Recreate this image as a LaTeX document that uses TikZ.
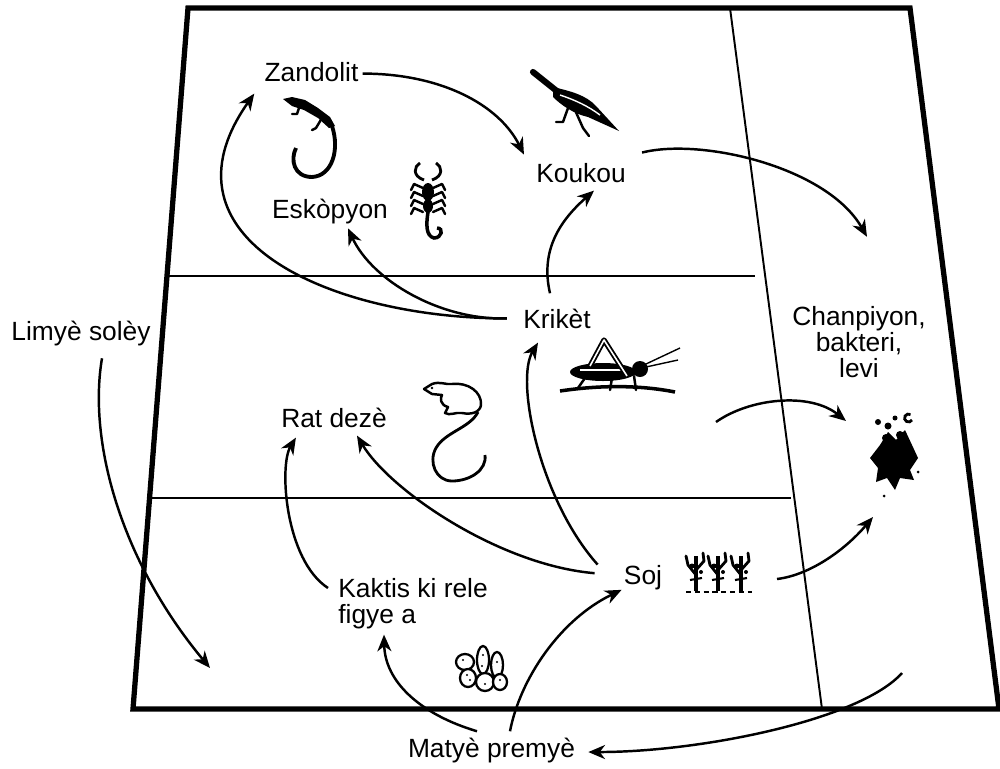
\documentclass[tikz,border=0pt]{standalone}
\usepackage{fontspec}
\setmainfont{Liberation Sans}
\usepackage{tikz}
\usetikzlibrary{arrows.meta}
\tikzstyle{diagram} = [x = 0.02cm, y = -0.02cm]
\tikzstyle{frameLine} = [line width = 3pt, line join = miter]
\tikzstyle{zoneLine} = [line width = 1.1pt]
\tikzstyle{feedArrow} = [line width = 1.4pt, -{Stealth[length = 9.5pt, width = 8pt, inset = 3pt]}]
\tikzstyle{labelText} = [font = \labelFont, inner sep = 0pt, anchor = base]
\tikzstyle{iconLine} = [line width = 1.4pt, line cap = round, line join = round]
\newcommand{\labelFont}{\fontsize{15}{15}\selectfont}
\newcommand{\foodLink}[4]{\draw [feedArrow] #1 .. controls #2 and #3 .. #4;}
\begin{document}
\begin{tikzpicture}[diagram]
    \useasboundingbox (0,0) rectangle (1000,768);
    % frame and zones
    \draw [frameLine] (188,8) -- (910,8) -- (999,709) -- (133,709) -- cycle;
    \draw [zoneLine] (167,276) -- (755,276);
    \draw [zoneLine] (150,498) -- (791,498);
    \draw [zoneLine] (730,8) -- (822,709);
    % lizard
    \fill (283,99) -- (292,97) -- (305,100) -- (318,108) -- (330,117) -- (335,126) -- (329,128) -- (318,118) -- (304,110) -- (292,106) -- cycle;
    \draw [iconLine] (300,105) -- (297,114) -- (292,114);
    \draw [iconLine] (322,118) -- (316,128) -- (312,130);
    \draw [line width = 2.2pt] (332,126) .. controls (340,150) and (332,176) .. (312,177) .. controls (294,177) and (290,160) .. (296,148);
    % bird
    \draw [line width = 3.5pt, line cap = round] (533,72) -- (558,92);
    \fill (553,87) .. controls (570,91) and (586,95) .. (596,106) -- (619,131) -- (588,117) .. controls (574,114) and (561,105) .. (553,97) -- cycle;
    \draw [white, line width = 0.8pt] (560,95) .. controls (575,100) and (588,106) .. (600,115);
    \draw [iconLine] (568,108) -- (563,122) -- (556,122);
    \draw [iconLine] (575,110) -- (583,128) -- (589,136);
    % scorpion
    \draw [line width = 1.6pt] (424,180) .. controls (412,176) and (414,166) .. (420,163);
    \draw [line width = 1.6pt] (432,180) .. controls (444,176) and (442,166) .. (436,163);
    \fill (428,192) ellipse [x radius = 6, y radius = 9];
    \fill (428,206) ellipse [x radius = 5, y radius = 7];
    \foreach \legY in {188,196,204,212} {
      \draw [iconLine] (423,\legY) -- (414,{\legY-4}) -- (411,{\legY+2});
      \draw [iconLine] (433,\legY) -- (442,{\legY-4}) -- (445,{\legY+2});
    }
    \draw [line width = 2pt] (428,212) .. controls (426,225) and (426,236) .. (434,238) .. controls (442,238) and (444,228) .. (437,228);
    % cricket
    \fill (603,372) ellipse [x radius = 33, y radius = 9];
    \fill (640,369) circle [radius = 8];
    \draw [white, line width = 1pt] (580,370) -- (625,370);
    \draw [line width = 3pt, line join = round] (590,366) -- (604,340) -- (627,376);
    \draw [white, line width = 0.9pt, line join = round] (590,366) -- (604,340) -- (627,376);
    \draw [iconLine] (612,378) -- (610,390);
    \draw [iconLine] (634,376) -- (636,390);
    \draw [iconLine] (585,378) -- (578,388);
    \draw [line width = 0.8pt] (646,364) -- (680,348);
    \draw [line width = 0.8pt] (646,367) -- (678,360);
    \draw [line width = 2pt] (560,391) .. controls (600,385) and (640,385) .. (675,392);
    % rat
    \draw [line width = 1.4pt, line join = round] (424,389) -- (432,384) .. controls (440,381) and (446,385) .. (452,384) .. controls (468,382) and (482,392) .. (481,405) .. controls (480,412) and (472,415) .. (462,413) .. controls (455,412) and (450,416) .. (445,413) -- (448,407) .. controls (440,405) and (440,398) .. (442,395) -- (432,394) -- cycle;
    \fill (432,388) circle [radius = 1.3];
    \draw [line width = 1.6pt] (478,412) .. controls (470,428) and (445,432) .. (436,448) .. controls (428,462) and (436,481) .. (452,481) .. controls (470,481) and (487,470) .. (485,455);
    % soj
    \foreach \bushX in {696,718,741} {
      \draw [line width = 2.4pt] (\bushX,591) -- (\bushX,556);
      \draw [iconLine, line width = 1.6pt] (\bushX,575) -- ({\bushX-8},565) -- ({\bushX-10},556);
      \draw [iconLine, line width = 1.6pt] (\bushX,570) -- ({\bushX+8},561) -- ({\bushX+7},553);
      \draw [line width = 1.2pt] ({\bushX-6},580) -- ({\bushX+6},578);
      \fill ({\bushX-4},566) circle [radius = 2.5];
      \fill ({\bushX+5},572) circle [radius = 2];
    }
    \draw [line width = 1.2pt, dash pattern = on 3pt off 2pt] (686,592) -- (752,592);
    % cactus
    \draw [line width = 1.3pt, fill = white] (483,660) ellipse [x radius = 6, y radius = 14];
    \draw [line width = 1.3pt, fill = white] (497,665) ellipse [x radius = 6, y radius = 13];
    \draw [line width = 1.3pt, fill = white] (465,662) ellipse [x radius = 9, y radius = 8];
    \draw [line width = 1.3pt, fill = white] (468,678) ellipse [x radius = 8, y radius = 9];
    \draw [line width = 1.3pt, fill = white] (485,682) ellipse [x radius = 9, y radius = 9];
    \draw [line width = 1.3pt, fill = white] (500,682) ellipse [x radius = 7, y radius = 8];
    \foreach \dotX/\dotY in {483/655,497/662,463/660,470/680,485/684,500/680,482/666,467/675} {
      \fill (\dotX,\dotY) circle [radius = 1.2];
    }
    % fungi, bacteria
    \fill (880,445) -- (888,432) -- (896,440) -- (905,430) -- (912,445) -- (918,458) -- (910,470) -- (914,480) -- (900,478) -- (895,490) -- (887,478) -- (876,482) -- (878,468) -- (870,458) -- cycle;
    \fill (878,422) circle [radius = 3];
    \fill (888,426) circle [radius = 3.5];
    \fill (895,418) circle [radius = 2.5];
    \fill (886,438) circle [radius = 4];
    \fill (900,435) circle [radius = 4];
    \draw [line width = 1.6pt] (912,420) arc [start angle = 30, end angle = 300, radius = 4];
    \fill (884,496) circle [radius = 1.5];
    \fill (918,472) circle [radius = 1.5];
    % labels
    \node [labelText] (zandolit) at (311.5,81) {Zandolit};
    \node [labelText] (koukou) at (581,182) {Koukou};
    \node [labelText] (eskopyon) at (330,218) {Eskòpyon};
    \node [labelText] (kriket) at (557,328) {Krikèt};
    \node [labelText] (limye) at (81,340) {Limyè solèy};
    \node [labelText, anchor = north, align = center] (chanpiyon) at (859,305.8) {Chanpiyon,\\bakteri,\\levi};
    \node [labelText] (ratDeze) at (334,427) {Rat dezè};
    \node [labelText] (soj) at (643,584) {Soj};
    \node [labelText, anchor = north west, align = left] (kaktis) at (338,578) {Kaktis ki rele\\figye a};
    \node [labelText] (matye) at (491.5,757) {Matyè premyè};
    \coordinate (sunGround) at (210,668);
    \coordinate (cricketIcon) at (716,422);
    \coordinate (sojPlant) at (777,579);
    \coordinate (fungus) at (895,454);
    \coordinate (groundRight) at (902,673);
    % arrows
    \foodLink{([shift={(4,2)}]zandolit.east)}{+(78,0)}{+(-25,-50)}{([shift={(-12,-8)}]koukou.north west)}
    \foodLink{([shift={(16,-10)}]koukou.north east)}{+(59,-15)}{+(-40,-70)}{([shift={(8,-69)}]chanpiyon.north)}
    \foodLink{([shift={(-16,0)}]kriket.west)}{+(-175,0)}{+(-103,146)}{([shift={(-10,12)}]zandolit.south west)}
    \foodLink{([shift={(-16,0)}]kriket.west)}{+(-67,2)}{+(24,52)}{([shift={(18,4.5)}]eskopyon.south)}
    \foodLink{([shift={(-7,-15)}]kriket.north)}{+(-10,-43)}{+(-34,30)}{([shift={(13,8)}]koukou.south)}
    \foodLink{([shift={(-26,0)}]soj.north west)}{+(-58,-65)}{+(-23,38)}{([shift={(-19,14)}]kriket.south)}
    \foodLink{([shift={(-29,-4)}]soj.west)}{+(-95,-8)}{+(33,55)}{([shift={(23,8)}]ratDeze.south)}
    \foodLink{([shift={(-10,10)}]kaktis.north west)}{+(-43,-28)}{+(-17,28)}{([shift={(15,10)}]ratDeze.south west)}
    \foodLink{([shift={(-14.5,-6)}]matye.north)}{+(-57,-17)}{+(1,47)}{([shift={(46,5)}]kaktis.south west)}
    \foodLink{([shift={(18.5,-6)}]matye.north)}{+(10,-52)}{+(-62,30)}{([shift={(-2,0)}]soj.south west)}
    \foodLink{([shift={(21,12.5)}]limye.south)}{+(-14,82)}{+(-90,-108)}{(sunGround)}
    \foodLink{(sojPlant)}{+(33,-4)}{+(-28,33)}{([shift={(-22,63)}]fungus)}
    \foodLink{(cricketIcon)}{+(34,-24)}{+(-36,-29)}{([shift={(-49,-33)}]fungus)}
    \foodLink{(groundRight)}{+(-42,47)}{+(112,0)}{([shift={(13,2)}]matye.east)}
\end{tikzpicture}
\end{document}
